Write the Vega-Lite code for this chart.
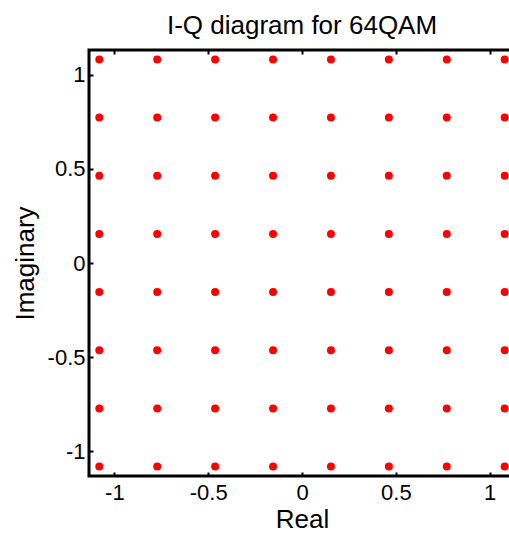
{
  "$schema": "https://vega.github.io/schema/vega-lite/v6.json",
  "width": 426,
  "height": 426,
  "autosize": {"type": "none"},
  "padding": {"left": 89, "top": 50, "right": 0, "bottom": 58},
  "background": "white",
  "title": {"text": "I-Q diagram for 64QAM", "fontSize": 26, "font": "Liberation Sans", "fontWeight": "normal", "baseline": "alphabetic", "offset": -11, "anchor": "middle", "frame": "group", "color": "black"},
  "config": {
    "view": {"stroke": "black", "strokeWidth": 3},
    "axis": {
      "domain": false, "grid": false,
      "tickColor": "black", "tickWidth": 2, "tickSize": -4,
      "labelFont": "Liberation Sans", "labelFontSize": 22, "labelColor": "black",
      "labelExpr": "'' + datum.value",
      "titleFont": "Liberation Sans", "titleFontSize": 26, "titleFontWeight": "normal", "titleColor": "black"
    }
  },
  "data": {"values": [
    {"re": -1.0801, "im": -1.0801}, {"re": -1.0801, "im": -0.7715}, {"re": -1.0801, "im": -0.4629}, {"re": -1.0801, "im": -0.1543}, {"re": -1.0801, "im": 0.1543}, {"re": -1.0801, "im": 0.4629}, {"re": -1.0801, "im": 0.7715}, {"re": -1.0801, "im": 1.0801},
    {"re": -0.7715, "im": -1.0801}, {"re": -0.7715, "im": -0.7715}, {"re": -0.7715, "im": -0.4629}, {"re": -0.7715, "im": -0.1543}, {"re": -0.7715, "im": 0.1543}, {"re": -0.7715, "im": 0.4629}, {"re": -0.7715, "im": 0.7715}, {"re": -0.7715, "im": 1.0801},
    {"re": -0.4629, "im": -1.0801}, {"re": -0.4629, "im": -0.7715}, {"re": -0.4629, "im": -0.4629}, {"re": -0.4629, "im": -0.1543}, {"re": -0.4629, "im": 0.1543}, {"re": -0.4629, "im": 0.4629}, {"re": -0.4629, "im": 0.7715}, {"re": -0.4629, "im": 1.0801},
    {"re": -0.1543, "im": -1.0801}, {"re": -0.1543, "im": -0.7715}, {"re": -0.1543, "im": -0.4629}, {"re": -0.1543, "im": -0.1543}, {"re": -0.1543, "im": 0.1543}, {"re": -0.1543, "im": 0.4629}, {"re": -0.1543, "im": 0.7715}, {"re": -0.1543, "im": 1.0801},
    {"re": 0.1543, "im": -1.0801}, {"re": 0.1543, "im": -0.7715}, {"re": 0.1543, "im": -0.4629}, {"re": 0.1543, "im": -0.1543}, {"re": 0.1543, "im": 0.1543}, {"re": 0.1543, "im": 0.4629}, {"re": 0.1543, "im": 0.7715}, {"re": 0.1543, "im": 1.0801},
    {"re": 0.4629, "im": -1.0801}, {"re": 0.4629, "im": -0.7715}, {"re": 0.4629, "im": -0.4629}, {"re": 0.4629, "im": -0.1543}, {"re": 0.4629, "im": 0.1543}, {"re": 0.4629, "im": 0.4629}, {"re": 0.4629, "im": 0.7715}, {"re": 0.4629, "im": 1.0801},
    {"re": 0.7715, "im": -1.0801}, {"re": 0.7715, "im": -0.7715}, {"re": 0.7715, "im": -0.4629}, {"re": 0.7715, "im": -0.1543}, {"re": 0.7715, "im": 0.1543}, {"re": 0.7715, "im": 0.4629}, {"re": 0.7715, "im": 0.7715}, {"re": 0.7715, "im": 1.0801},
    {"re": 1.0801, "im": -1.0801}, {"re": 1.0801, "im": -0.7715}, {"re": 1.0801, "im": -0.4629}, {"re": 1.0801, "im": -0.1543}, {"re": 1.0801, "im": 0.1543}, {"re": 1.0801, "im": 0.4629}, {"re": 1.0801, "im": 0.7715}, {"re": 1.0801, "im": 1.0801}
  ]},
  "layer": [
    {
      "mark": {"type": "point", "filled": true, "color": "#ff0000", "opacity": 1, "size": 64, "clip": false},
      "encoding": {
        "x": {"field": "re", "type": "quantitative", "scale": {"domain": [-1.135, 1.135], "nice": false, "zero": false},
              "axis": {"orient": "bottom", "title": "Real", "values": [-1, -0.5, 0, 0.5, 1], "labelPadding": 10, "titlePadding": 3}},
        "y": {"field": "im", "type": "quantitative", "scale": {"domain": [-1.13, 1.13], "nice": false, "zero": false},
              "axis": {"title": "Imaginary", "values": [-1, -0.5, 0, 0.5, 1], "labelPadding": 8, "titlePadding": 9}}
      }
    },
    {
      "mark": {"type": "point", "opacity": 0},
      "encoding": {
        "x": {"field": "re", "type": "quantitative", "axis": {"orient": "top", "title": null, "labels": false, "values": [-1, -0.5, 0, 0.5, 1]}},
        "y": {"field": "im", "type": "quantitative"}
      }
    }
  ],
  "resolve": {"axis": {"x": "independent"}}
}
